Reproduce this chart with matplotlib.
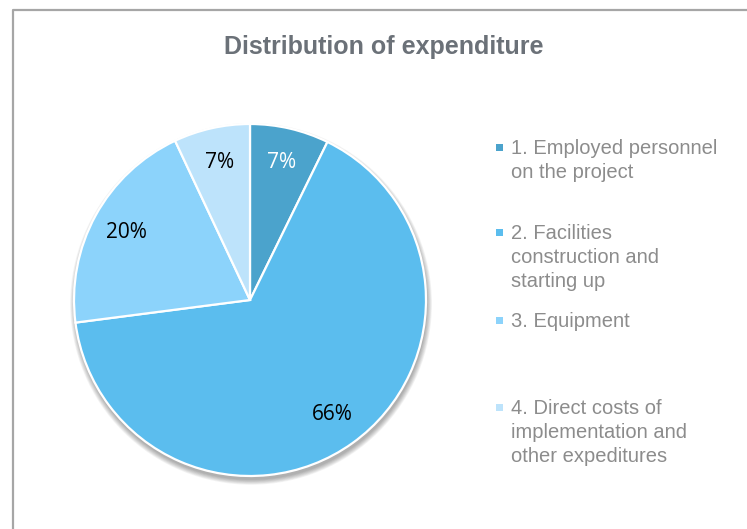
import matplotlib.pyplot as plt
from matplotlib.lines import Line2D
from matplotlib.patches import Rectangle, Circle

# values (percent of expenditure)
categories = ["1. Employed personnel\non the project",
              "2. Facilities\nconstruction and\nstarting up",
              "3. Equipment",
              "4. Direct costs of\nimplementation and\nother expeditures"]
shares = [7.25, 65.7, 20.05, 7.0]
colors = ["#4ba3cc", "#5bbdee", "#8cd3fb", "#bde3fb"]
label_colors = ["white", "black", "black", "black"]

W, H = 747, 529
fig = plt.figure(figsize=(W / 100, H / 100), dpi=100)

# pie placed with centre at (250, 300) px and radius ~176 px
cx, cy, r = 250, 300, 176
lim = 1.06
size = 2 * r * lim
ax = fig.add_axes([(cx - size / 2) / W, (H - cy - size / 2) / H, size / W, size / H])

# soft drop shadow under the whole pie
for k in range(8):
    ax.add_patch(Circle((0.006, -0.022), 1.0 + 0.004 * k, facecolor="black",
                        edgecolor="none", alpha=0.045, zorder=0))

wedges, texts = ax.pie(shares, colors=colors, startangle=90, counterclock=False,
                       labels=["%.0f%%" % s for s in shares], labeldistance=0.8,
                       wedgeprops=dict(edgecolor="white", linewidth=1.6, zorder=2))
for t, c in zip(texts, label_colors):
    t.set_color(c)
    t.set_fontsize(15)
    t.set_family("Open Sans")
    t.set_ha("center")
    t.set_va("center")
    t.set_zorder(3)
ax.set_xlim(-lim, lim)
ax.set_ylim(-lim, lim)
ax.axis("off")

fig.text(384 / W, 1 - 47 / H, "Distribution of expenditure", ha="center", va="center",
         fontsize=18, fontweight="bold", color="#6b7178", family="Liberation Sans")

# legend, one equal slot per entry like the original
legend_top = [148, 233, 321, 408]
for y, lab, col in zip(legend_top, categories, colors):
    fig.patches.append(Rectangle((496 / W, 1 - (y + 3) / H), 7 / W, 7 / H,
                                 transform=fig.transFigure, facecolor=col, edgecolor="none"))
    fig.text(511 / W, 1 - (y - 9) / H, lab, ha="left", va="top", fontsize=14.5,
             color="#8c8c8c", family="Liberation Sans", linespacing=1.32)

# chart area border (top and left visible)
fig.add_artist(Line2D([13 / W, 13 / W, 1], [0, 1 - 10 / H, 1 - 10 / H],
                      transform=fig.transFigure, color="#a6a6a6", linewidth=1.6))

fig.savefig("out.png", dpi=100, facecolor="white")
